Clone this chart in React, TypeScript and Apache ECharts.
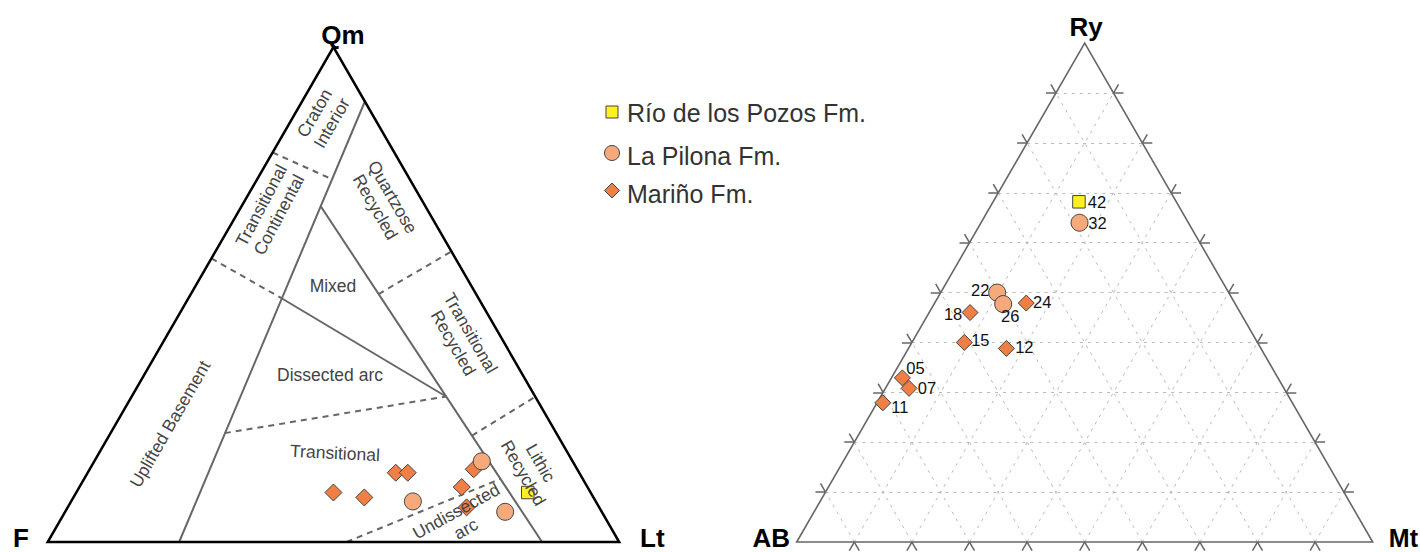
import React, { useEffect, useRef } from 'react';
import * as echarts from 'echarts';

const SQ = Math.sqrt(3) / 2;
const FONT = '"Liberation Sans", Arial, Helvetica, sans-serif';

// ---------- Left diagram: QmFLt (percent) [Qm, F, Lt] ----------
const QFL_RIO = [[10.0, 11.0, 79.0]];
const QFL_PILONA = [
  [8.2, 32.0, 59.8],
  [16.3, 15.9, 67.8],
  [6.1, 16.9, 77.0],
];
const QFL_MARINO = [
  [10.0, 45.0, 45.0],
  [9.0, 40.1, 50.9],
  [14.0, 32.1, 53.9],
  [14.0, 30.0, 56.0],
  [11.1, 22.0, 66.9],
  [14.7, 18.1, 67.2],
  [7.0, 23.2, 69.8],
];

// Provenance field boundaries, endpoints as [Qm, F, Lt]
const QFL_SOLID = [
  [[0, 77, 23], [89, 0, 11]],
  [[67.8, 18.3, 13.9], [0, 13.5, 86.5]],
  [[49.2, 34.4, 16.4], [29.4, 15.6, 55.0]],
];
const QFL_DASHED = [
  [[78.7, 21.3, 0], [73.3, 13.6, 13.1]],
  [[57.3, 42.7, 0], [49.2, 34.4, 16.4]],
  [[50.1, 17.05, 32.85], [58.7, 0, 41.3]],
  [[21.5, 15.0, 63.5], [29.35, 0, 70.65]],
  [[22.0, 58.0, 20.0], [29.4, 15.6, 55.0]],
  [[0, 47.7, 52.3], [12.75, 14.4, 72.85]],
];

// ---------- Right diagram: Ry-Mt-AB (percent) [Ry, Mt, AB] ----------
const RAM_RIO = [[68.2, 14.9, 16.9]];
const RIO_IDS = ['42'];
const RAM_PILONA = [
  [64.0, 17.1, 18.9],
  [50.0, 9.8, 40.2],
  [47.7, 12.0, 40.3],
];
const PILONA_IDS = ['32', '22', '26'];
const RAM_MARINO = [
  [47.9, 15.9, 36.2],
  [46.0, 7.1, 46.9],
  [40.0, 9.1, 50.9],
  [38.8, 17.0, 44.2],
  [32.9, 1.9, 65.2],
  [30.8, 4.1, 65.1],
  [27.9, 1.0, 71.1],
];
const MARINO_IDS = ['24', '18', '15', '12', '05', '07', '11'];
const TICKS = [10, 20, 30, 40, 50, 60, 70, 80, 90];

// label placement (style) for sample ids
const LABEL_OFFSET: Record<string, number[]> = {
  '42': [18, 0], '32': [18, 0], '22': [-17, -3], '26': [7, 12],
  '24': [16, -1], '18': [-17, 1], '15': [16, -2], '12': [18, -1],
  '05': [13, -10], '07': [18, 0], '11': [17, 4],
};

const qfl = (v: number[]) => [(v[2] + v[0] / 2) / 100, (v[0] / 100) * SQ];
const ram = (v: number[]) => [(v[1] + v[0] / 2) / 100, (v[0] / 100) * SQ];

const COLORS = { rio: '#fff01f', pilona: '#f6a97b', marino: '#ef7f45', border: '#444' };

function buildOption() {
  const TL = 10 / 576;
  const ticks: any[] = [];
  const gridLines: any[] = [];
  TICKS.forEach((t) => {
    const l = ram([t, 0, 100 - t]);
    ticks.push({ coords: [l, [l[0] - TL, l[1]]] });
    ticks.push({ coords: [l, [l[0] - TL * 0.5, l[1] + TL * SQ]] });
    const r = ram([t, 100 - t, 0]);
    ticks.push({ coords: [r, [r[0] + TL, r[1]]] });
    ticks.push({ coords: [r, [r[0] + TL * 0.5, r[1] + TL * SQ]] });
    const b = ram([0, t, 100 - t]);
    ticks.push({ coords: [b, [b[0] - TL * 0.5, b[1] - TL * SQ]] });
    ticks.push({ coords: [b, [b[0] + TL * 0.5, b[1] - TL * SQ]] });
    gridLines.push({ coords: [ram([t, 0, 100 - t]), ram([t, 100 - t, 0])] });
    gridLines.push({ coords: [ram([0, t, 100 - t]), ram([100 - t, t, 0])] });
    gridLines.push({ coords: [ram([0, 100 - t, t]), ram([100 - t, 0, t])] });
  });

  const triQ = [[0.5, 0], [1, 0], [0.5, SQ], [0, 0], [0.5, 0]];

  const labelled = (vals: number[][], ids: string[]) =>
    vals.map((v, i) => ({
      value: ram(v),
      name: ids[i],
      label: { offset: LABEL_OFFSET[ids[i]] },
    }));

  const ptLabel = {
    show: true,
    position: 'inside',
    formatter: '{b}',
    fontSize: 16.5,
    fontFamily: FONT,
    color: '#111',
  };

  const txt = (text: string, x: number, y: number, deg: number, extra: any = {}) => ({
    type: 'text',
    x,
    y,
    rotation: (deg * Math.PI) / 180,
    z: 100,
    silent: true,
    style: {
      text,
      fontSize: 17.5,
      fontFamily: FONT,
      fill: '#444',
      align: 'center',
      verticalAlign: 'middle',
      lineHeight: 20,
      ...extra,
    },
  });
  const bold = { fontSize: 26, fontWeight: 'bold', fill: '#000' };
  const legendText = { fontSize: 25, fill: '#333', align: 'left' };

  return {
    animation: false,
    backgroundColor: '#fff',
    grid: [
      { left: 47.7, top: 542 - 571.5 * SQ, width: 571.5, height: 571.5 * SQ },
      { left: 796.7, top: 542 - 576 * SQ, width: 576, height: 576 * SQ },
    ],
    xAxis: [
      { gridIndex: 0, type: 'value', min: 0, max: 1, show: false },
      { gridIndex: 1, type: 'value', min: 0, max: 1, show: false },
    ],
    yAxis: [
      { gridIndex: 0, type: 'value', min: 0, max: SQ, show: false },
      { gridIndex: 1, type: 'value', min: 0, max: SQ, show: false },
    ],
    series: [
      // ---- left ----
      {
        type: 'lines', coordinateSystem: 'cartesian2d', xAxisIndex: 0, yAxisIndex: 0,
        silent: true, clip: false, z: 2,
        data: QFL_SOLID.map(([a, b]) => ({ coords: [qfl(a), qfl(b)] })),
        lineStyle: { color: '#666', width: 2, opacity: 1 },
      },
      {
        type: 'lines', coordinateSystem: 'cartesian2d', xAxisIndex: 0, yAxisIndex: 0,
        silent: true, clip: false, z: 2,
        data: QFL_DASHED.map(([a, b]) => ({ coords: [qfl(a), qfl(b)] })),
        lineStyle: { color: '#666', width: 2, opacity: 1, type: [6, 5] },
      },
      {
        type: 'lines', coordinateSystem: 'cartesian2d', xAxisIndex: 0, yAxisIndex: 0,
        polyline: true, silent: true, clip: false, z: 3,
        data: [{ coords: triQ }],
        lineStyle: { color: '#000', width: 2.5, opacity: 1, join: 'miter' },
      },
      {
        type: 'scatter', xAxisIndex: 0, yAxisIndex: 0, silent: true, clip: false, z: 5,
        symbol: 'diamond', symbolSize: 17,
        data: QFL_MARINO.map(qfl),
        itemStyle: { color: COLORS.marino, borderColor: COLORS.border, borderWidth: 1, opacity: 1 },
      },
      {
        type: 'scatter', xAxisIndex: 0, yAxisIndex: 0, silent: true, clip: false, z: 5,
        symbol: 'circle', symbolSize: 17,
        data: QFL_PILONA.map(qfl),
        itemStyle: { color: COLORS.pilona, borderColor: COLORS.border, borderWidth: 1, opacity: 1 },
      },
      {
        type: 'scatter', xAxisIndex: 0, yAxisIndex: 0, silent: true, clip: false, z: 5,
        symbol: 'rect', symbolSize: 12.5,
        data: QFL_RIO.map(qfl),
        itemStyle: { color: COLORS.rio, borderColor: COLORS.border, borderWidth: 1, opacity: 1 },
      },
      // ---- right ----
      {
        type: 'lines', coordinateSystem: 'cartesian2d', xAxisIndex: 1, yAxisIndex: 1,
        silent: true, clip: false, z: 1,
        data: gridLines,
        lineStyle: { color: '#bbb', width: 1, opacity: 1, type: [3, 5] },
      },
      {
        type: 'lines', coordinateSystem: 'cartesian2d', xAxisIndex: 1, yAxisIndex: 1,
        silent: true, clip: false, z: 2,
        data: ticks,
        lineStyle: { color: '#666', width: 1.5, opacity: 1 },
      },
      {
        type: 'lines', coordinateSystem: 'cartesian2d', xAxisIndex: 1, yAxisIndex: 1,
        polyline: true, silent: true, clip: false, z: 3,
        data: [{ coords: triQ }],
        lineStyle: { color: '#666', width: 1.6, opacity: 1, join: 'miter' },
      },
      {
        type: 'scatter', xAxisIndex: 1, yAxisIndex: 1, silent: true, clip: false, z: 5,
        symbol: 'diamond', symbolSize: 16,
        data: labelled(RAM_MARINO, MARINO_IDS),
        label: ptLabel,
        itemStyle: { color: COLORS.marino, borderColor: COLORS.border, borderWidth: 1, opacity: 1 },
      },
      {
        type: 'scatter', xAxisIndex: 1, yAxisIndex: 1, silent: true, clip: false, z: 5,
        symbol: 'circle', symbolSize: 17,
        data: labelled(RAM_PILONA, PILONA_IDS),
        label: ptLabel,
        itemStyle: { color: COLORS.pilona, borderColor: COLORS.border, borderWidth: 1, opacity: 1 },
      },
      {
        type: 'scatter', xAxisIndex: 1, yAxisIndex: 1, silent: true, clip: false, z: 5,
        symbol: 'rect', symbolSize: 12.5,
        data: labelled(RAM_RIO, RIO_IDS),
        label: ptLabel,
        itemStyle: { color: COLORS.rio, borderColor: COLORS.border, borderWidth: 1, opacity: 1 },
      },
    ],
    graphic: {
      elements: [
        // vertex labels
        txt('Qm', 343, 35, 0, bold),
        txt('F', 13, 538, 0, { ...bold, align: 'left' }),
        txt('Lt', 640, 538, 0, { ...bold, align: 'left' }),
        txt('Ry', 1086, 27, 0, bold),
        txt('AB', 790, 538, 0, { ...bold, align: 'right' }),
        txt('Mt', 1418, 538, 0, { ...bold, fontSize: 25, align: 'right' }),
        // field labels
        txt('Craton\nInterior', 323, 118, 60),
        txt('Transitional\nContinental', 270, 210, 62),
        txt('Quartzose\nRecycled', 384, 202, -60),
        txt('Mixed', 333, 286, 0),
        txt('Transitional\nRecycled', 462, 338, -60),
        txt('Uplifted Basement', 170, 424, 60),
        txt('Dissected arc', 330, 375, 0),
        txt('Transitional', 335, 453, -3),
        txt('Lithic\nRecycled', 532, 468, -60),
        txt('Undissected\narc', 461, 520, 29),
        // legend
        {
          type: 'rect', z: 100, silent: true,
          shape: { x: 606, y: 106, width: 12, height: 12 },
          style: { fill: COLORS.rio, stroke: COLORS.border, lineWidth: 1 },
        },
        {
          type: 'circle', z: 100, silent: true,
          shape: { cx: 612, cy: 153, r: 7.5 },
          style: { fill: COLORS.pilona, stroke: COLORS.border, lineWidth: 1 },
        },
        {
          type: 'polygon', z: 100, silent: true,
          shape: { points: [[612, 183], [619.5, 190.5], [612, 198], [604.5, 190.5]] },
          style: { fill: COLORS.marino, stroke: COLORS.border, lineWidth: 1 },
        },
        txt('Río de los Pozos Fm.', 627, 113, 0, legendText),
        txt('La Pilona Fm.', 627, 156, 0, legendText),
        txt('Mariño Fm.', 627, 194, 0, legendText),
      ],
    },
  };
}

export default function App() {
  const ref = useRef<HTMLDivElement>(null);
  useEffect(() => {
    if (!ref.current) return;
    const chart = echarts.init(ref.current, undefined, { renderer: 'svg' });
    chart.setOption(buildOption() as any);
    return () => chart.dispose();
  }, []);
  return (
    <div
      ref={ref}
      style={{ position: 'fixed', left: 0, top: 0, width: 1420, height: 552, background: '#fff' }}
    />
  );
}
